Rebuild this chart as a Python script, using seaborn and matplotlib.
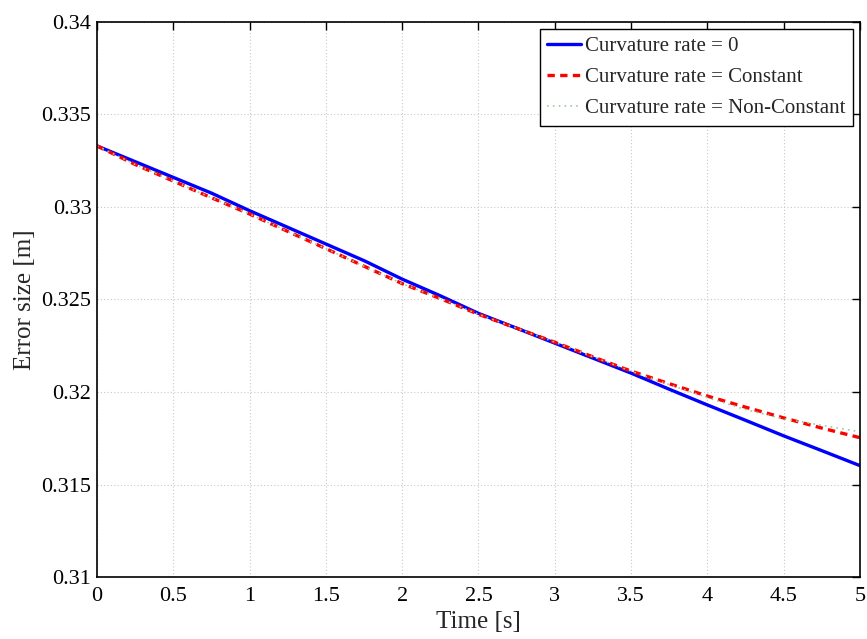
import numpy as np
import pandas as pd
import matplotlib
matplotlib.use("Agg")
import matplotlib.pyplot as plt
import seaborn as sns

# data (time step 0.25 s)
time_s = [0.0, 0.25, 0.5, 0.75, 1.0, 1.25, 1.5, 1.75, 2.0, 2.25, 2.5,
          2.75, 3.0, 3.25, 3.5, 3.75, 4.0, 4.25, 4.5, 4.75, 5.0]
err_zero = [0.3333, 0.33245, 0.3316, 0.33075, 0.3298, 0.3289, 0.3280, 0.3271,
            0.3261, 0.3252, 0.32425, 0.32345, 0.32264, 0.32183, 0.32102,
            0.32015, 0.3193, 0.31847, 0.31763, 0.31683, 0.31602]
err_const = [0.3333, 0.3323, 0.3314, 0.3305, 0.32962, 0.32868, 0.32775, 0.3268,
             0.32586, 0.32505, 0.3242, 0.32345, 0.32269, 0.3219, 0.32113,
             0.32045, 0.31978, 0.31918, 0.3186, 0.31805, 0.31753]
err_nonconst = [0.3333, 0.3323, 0.3314, 0.3305, 0.32962, 0.32868, 0.32775, 0.3268,
                0.32586, 0.32505, 0.3242, 0.32345, 0.32269, 0.3219, 0.32113,
                0.3204, 0.3197, 0.31905, 0.31855, 0.3182, 0.31785]
labels = ["Curvature rate = 0", "Curvature rate = Constant",
          "Curvature rate = Non-Constant"]
xticks = [0, 0.5, 1, 1.5, 2, 2.5, 3, 3.5, 4, 4.5, 5]
xticklabels = ["0", "0.5", "1", "1.5", "2", "2.5", "3", "3.5", "4", "4.5", "5"]
yticks = [0.31, 0.315, 0.32, 0.325, 0.33, 0.335, 0.34]
yticklabels = ["0.31", "0.315", "0.32", "0.325", "0.33", "0.335", "0.34"]

sns.set_style("white")
plt.rcParams['font.family'] = ['Liberation Serif', 'DejaVu Serif']

fig = plt.figure(figsize=(8.67, 6.39), dpi=100)
ax = fig.add_axes([0.1119, 0.097, 0.8800, 0.8686])

sns.lineplot(x=time_s, y=err_zero, ax=ax, color="#0000ff", linewidth=2.4,
             label=labels[0])
sns.lineplot(x=time_s, y=err_const, ax=ax, color="#ff0000", linewidth=2.4,
             linestyle=(0, (2.2, 1.6)), label=labels[1])
sns.lineplot(x=time_s, y=err_nonconst, ax=ax, color="#9ccc9c", linewidth=1.2,
             linestyle=(0, (1, 2.5)), label=labels[2])

ax.set_xlim(0, 5)
ax.set_ylim(0.31, 0.34)
ax.set_xticks(xticks)
ax.set_xticklabels(xticklabels)
ax.set_yticks(yticks)
ax.set_yticklabels(yticklabels)
ax.grid(True, color="#c8c8c8", linestyle=(0, (1, 2)), linewidth=0.8)
ax.tick_params(direction="in", length=6, width=1, top=True, right=True,
               labelsize=16, colors="black")
ax.tick_params(axis="x", pad=7)
ax.tick_params(axis="y", pad=4)
for sp in ax.spines.values():
    sp.set_color("black")
    sp.set_linewidth(1.2)

ax.set_xlabel("Time [s]", fontsize=18, labelpad=4)
ax.set_ylabel("Error size [m]", fontsize=18, labelpad=4)

leg = ax.legend(loc="upper right", fontsize=15, frameon=True, fancybox=False,
                borderaxespad=0.35, handlelength=1.6, handletextpad=0.2,
                labelspacing=0.55, borderpad=0.35)
leg.get_frame().set_edgecolor("black")
leg.get_frame().set_linewidth(1.0)
leg.get_frame().set_alpha(1)

fig.savefig("out.png", dpi=100)
